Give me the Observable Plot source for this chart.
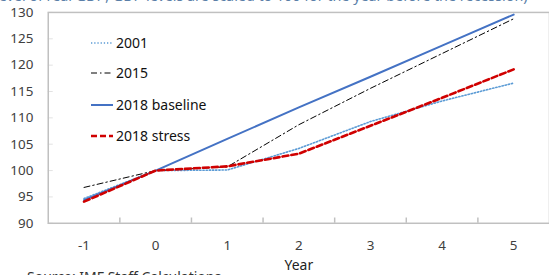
<!DOCTYPE html>
<html><head><meta charset="utf-8">
<script src="https://cdn.jsdelivr.net/npm/d3@7"></script>
<script src="https://cdn.jsdelivr.net/npm/@observablehq/plot@0.6"></script>
<style>
html,body{margin:0;padding:0;width:549px;height:275px;overflow:hidden;background:#fff;font-family:"Noto Sans",sans-serif;}
#wrap{position:relative;width:549px;height:275px;overflow:hidden;}
#title{position:absolute;left:-13px;top:-13px;white-space:nowrap;font-size:14.3px;color:#5b7fa8;line-height:18px;}
#source{position:absolute;left:27px;top:268px;white-space:nowrap;font-size:14px;color:#333;line-height:18px;}
#chart{position:absolute;left:0;top:0;}
#legend{position:absolute;left:0;top:0;width:549px;height:275px;pointer-events:none;}
</style></head>
<body><div id="wrap">
<div id="chart"></div>
<div id="title">(Level of real GDP; GDP levels are scaled to 100 for the year before the recession)</div>
<div id="source">Source: IMF Staff Calculations</div>
<svg id="legend"></svg>
</div>
<script>
const years = [-1, 0, 1, 2, 3, 4, 5];
const s2001 = [94.7, 100, 100.1, 104.2, 109.3, 113.2, 116.6];
const s2015 = [96.8, 100, 100.7, 108.7, 115.6, 122.2, 128.8];
const sBase = [94.4, 100, 106, 112, 117.8, 123.7, 129.6];
const sStress = [94.1, 100, 100.8, 103.2, 108.5, 113.8, 119.2];
const yTicks = [90, 95, 100, 105, 110, 115, 120, 125, 130];
const xBounds = [-0.5, 0.5, 1.5, 2.5, 3.5, 4.5];
const seriesNames = ["2001", "2015", "2018 baseline", "2018 stress"];

const styles = {
  "2001": {stroke: "#5b9bd5", strokeWidth: 1.6, strokeDasharray: "1.3,1.9"},
  "2015": {stroke: "#000000", strokeWidth: 1, strokeDasharray: "6,3,1.5,3"},
  "2018 baseline": {stroke: "#4472c4", strokeWidth: 2},
  "2018 stress": {stroke: "#d00000", strokeWidth: 2.6, strokeDasharray: "6,3"}
};
const toRows = (vals) => years.map((y, i) => ({year: y, value: vals[i]}));
const seriesData = {"2001": s2001, "2015": s2015, "2018 baseline": sBase, "2018 stress": sStress};

const font = '"Noto Sans", sans-serif';
const chart = Plot.plot({
  width: 552, height: 275,
  marginLeft: 48, marginRight: 0, marginTop: 12, marginBottom: 51,
  x: {type: "linear", domain: [-1.5, 5.5]},
  y: {domain: [90, 130]},
  style: {fontFamily: font, fontSize: "13.5px", color: "#404040", background: "transparent"},
  marks: [
    Plot.axisY({ticks: yTicks, tickSize: 0, tickPadding: 15, label: null, fontSize: 13.5}),
    Plot.axisX({ticks: years, tickSize: 0, tickPadding: 17, label: null, fontSize: 13.5, tickFormat: d => String(d)}),
    Plot.ruleX(xBounds, {y1: 90, y2: 91, stroke: "#c0c0c0", strokeWidth: 1.5}),
    Plot.ruleY(yTicks, {x1: -1.5, x2: -1.43, stroke: "#e2e2e2", strokeWidth: 1}),
    Plot.frame({stroke: "#c0c0c0", strokeWidth: 1.5}),
    ...seriesNames.map(n => Plot.line(toRows(seriesData[n]), {x: "year", y: "value", ...styles[n]})),
    Plot.text(["Year"], {x: 2, frameAnchor: "bottom", dy: 47, lineAnchor: "bottom", fontSize: 14, fill: "#222"})
  ]
});
document.getElementById("chart").append(chart);

// legend
const lg = d3.select("#legend");
const rowY = [43, 73, 105, 136];
seriesNames.forEach((n, i) => {
  const s = styles[n];
  lg.append("line").attr("x1", 91).attr("x2", 113).attr("y1", rowY[i]).attr("y2", rowY[i])
    .attr("stroke", s.stroke).attr("stroke-width", s.strokeWidth)
    .attr("stroke-dasharray", s.strokeDasharray || null);
  lg.append("text").attr("x", 116).attr("y", rowY[i]).attr("dy", "0.35em")
    .attr("font-family", font).attr("font-size", 14).attr("fill", "#111").text(n);
});
</script>
</body></html>
